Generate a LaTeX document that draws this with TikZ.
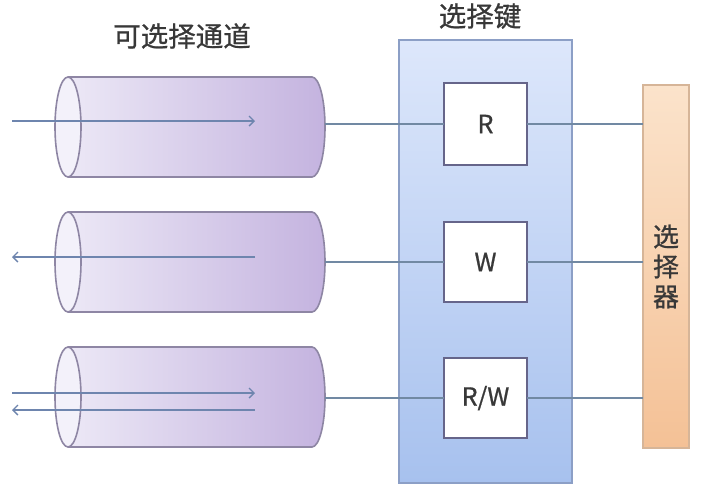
\documentclass[tikz,border=0pt]{standalone}
\usepackage{fontspec}
\setmainfont{Noto Sans CJK SC}[FakeBold=0.8]
\usetikzlibrary{arrows.meta}
\definecolor{cylL}{HTML}{ECE8F6}
\definecolor{cylR}{HTML}{C4B3DF}
\definecolor{cylF}{HTML}{F3F1FA}
\definecolor{cylB}{HTML}{8E86A4}
\definecolor{keyT}{HTML}{DDE7FB}
\definecolor{keyB}{HTML}{A7C1EE}
\definecolor{keyD}{HTML}{8C9FC6}
\definecolor{selT}{HTML}{FBE3CB}
\definecolor{selB}{HTML}{F4C196}
\definecolor{selD}{HTML}{D6B598}
\definecolor{boxD}{HTML}{66658A}
\definecolor{lineC}{HTML}{7189A3}
\definecolor{arrC}{HTML}{6E85AE}
\definecolor{txt}{HTML}{383838}
\newcommand{\mycyl}[1]{%
  \shade[left color=cylL, right color=cylR] (68,#1+50) -- (312,#1+50)
    arc[start angle=90, end angle=-90, x radius=13, y radius=50] -- (68,#1-50) -- cycle;
  \draw[cylB, line width=1.6] (68,#1+50) -- (312,#1+50)
    arc[start angle=90, end angle=-90, x radius=13, y radius=50] -- (68,#1-50);
  \filldraw[fill=cylF, draw=cylB, line width=1.6] (68,#1) ellipse[x radius=13, y radius=50];
}
\tikzset{
  title/.style={font=\fontsize{27.5}{30}\selectfont, text=txt, inner sep=0},
  keybox/.style={draw=keyD, line width=1.5, top color=keyT, bottom color=keyB, outer sep=0, inner sep=0},
  selbox/.style={draw=selD, line width=1.2, top color=selT, bottom color=selB, outer sep=0, inner sep=0,
    align=center, font=\fontsize{26}{30}\selectfont, text=txt},
  modebox/.style={draw=boxD, line width=2, fill=white, minimum width=83pt, minimum height=80pt,
    outer sep=0, inner sep=0, font=\fontsize{25}{28}\selectfont, text=txt},
  conn/.style={lineC, line width=1.4},
  arr/.style={arrC, line width=1.4, -{Straight Barb[length=5pt, width=10pt]}},
}
\begin{document}
\begin{tikzpicture}[x=1pt, y=1pt]
\useasboundingbox[fill=white] (0,0) rectangle (723,-491);

% titles
\node[title] (t1) at (182,-36) {可选择通道};
\node[title] (t2) at (480,-16) {选择键};

% cylinders
\mycyl{-127}
\mycyl{-262}
\mycyl{-397}

% channel arrows
\coordinate (a1s) at (12,-121);  \coordinate (a1e) at (255,-121);
\coordinate (a2s) at (255,-257); \coordinate (a2e) at (12,-257);
\coordinate (a3s) at (12,-393);  \coordinate (a3e) at (255,-393);
\coordinate (a4s) at (255,-410); \coordinate (a4e) at (12,-410);
\draw[arr] (a1s) -- (a1e);
\draw[arr] (a2s) -- (a2e);
\draw[arr] (a3s) -- (a3e);
\draw[arr] (a4s) -- (a4e);

% selection key panel
\node[keybox, minimum width=173pt, minimum height=443pt] (keys) at (485.5,-261.5) {};

% selector bar
\node[selbox, minimum width=46pt, minimum height=363pt] (sel) at (666,-266.5) {选\\择\\器};

% mode boxes
\node[modebox, minimum height=82pt] (R) at (485.5,-124) {R};
\node[modebox] (W) at (485.5,-262) {W};
\node[modebox] (RW) at (485.5,-398) {R/W};

% cylinder ends
\coordinate (c1) at (325,-124);
\coordinate (c2) at (325,-262);
\coordinate (c3) at (325,-398);

% connectors
\draw[conn] (c1) -- (R.west);
\draw[conn] (c2) -- (W.west);
\draw[conn] (c3) -- (RW.west);
\draw[conn] (R.east) -- (R.east -| sel.west);
\draw[conn] (W.east) -- (W.east -| sel.west);
\draw[conn] (RW.east) -- (RW.east -| sel.west);
\end{tikzpicture}
\end{document}
